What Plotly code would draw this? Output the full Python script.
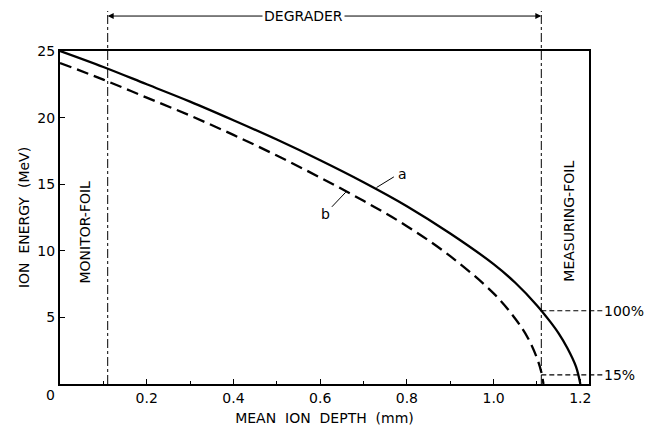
import plotly.graph_objects as go

# Curve a (solid) and curve b (dashed): mean ion depth (mm) vs ion energy (MeV)
depth_a = [0, 0.1, 0.2, 0.3, 0.4, 0.5, 0.6, 0.7, 0.8, 0.9, 1.0, 1.05, 1.1, 1.13, 1.15, 1.17, 1.19, 1.2]
energy_a = [25, 23.8, 22.5, 21.2, 19.8, 18.35, 16.8, 15.15, 13.35, 11.3, 9.0, 7.6, 5.9, 4.7, 3.8, 2.7, 1.3, 0]

depth_b = [0, 0.1, 0.2, 0.3, 0.4, 0.5, 0.6, 0.7, 0.8, 0.9, 1.0, 1.05, 1.08, 1.1, 1.11, 1.115]
energy_b = [24.1, 22.85, 21.5, 20.15, 18.7, 17.15, 15.5, 13.75, 11.85, 9.6, 6.8, 4.9, 3.4, 1.95, 0.9, 0]

x_ticks = [0.2, 0.4, 0.6, 0.8, 1.0, 1.2]
x_ticktext = ["0.2", "0.4", "0.6", "0.8", "1.0", "1.2"]
x_minor = [0.1, 0.3, 0.5, 0.7, 0.9, 1.1]
y_ticks = [5, 10, 15, 20, 25]

monitor_foil_x = 0.11
measuring_foil_x = 1.11
level_100 = 5.5
level_15 = 0.68

FONT = "DejaVu Sans"
FS = 14

fig = go.Figure()
fig.add_trace(go.Scatter(x=depth_a, y=energy_a, mode="lines",
                         line=dict(color="black", width=2.3, shape="spline", smoothing=1.0),
                         showlegend=False, hoverinfo="skip"))
fig.add_trace(go.Scatter(x=depth_b, y=energy_b, mode="lines",
                         line=dict(color="black", width=2.3, dash="12px,6px", shape="spline", smoothing=1.0),
                         showlegend=False, hoverinfo="skip"))

X0, X1 = 0, 1.22
fig.update_xaxes(range=[X0, X1], showline=True, linecolor="black", linewidth=2, mirror=True,
                 automargin=False,
                 ticks="inside", ticklen=5, tickcolor="black", tickwidth=1,
                 tickvals=x_ticks, ticktext=x_ticktext,
                 minor=dict(tickvals=x_minor, ticks="inside", ticklen=3, tickcolor="black"),
                 showgrid=False, zeroline=False,
                 tickfont=dict(family=FONT, size=FS, color="black"),
                 title=dict(text="MEAN  ION  DEPTH  (mm)", font=dict(family=FONT, size=FS, color="black"), standoff=8))
fig.update_yaxes(range=[0, 25], showline=True, linecolor="black", linewidth=2, mirror=True,
                 automargin=False,
                 ticks="inside", ticklen=5, tickcolor="black", tickwidth=1,
                 tickvals=y_ticks, showgrid=False, zeroline=False,
                 tickfont=dict(family=FONT, size=FS, color="black"),
                 title=dict(text="ION  ENERGY  (MeV)", font=dict(family=FONT, size=FS, color="black"), standoff=4))

shapes = []
# dash-dot foil boundaries, extending above the frame
for xv in (monitor_foil_x, measuring_foil_x):
    shapes.append(dict(type="line", xref="x", yref="paper", x0=xv, x1=xv, y0=0, y1=1.12,
                       line=dict(color="black", width=1, dash="dashdot")))
# 100% / 15% levels
def px(xd):
    return (xd - X0) / (X1 - X0)
for lv in (level_100, level_15):
    shapes.append(dict(type="line", xref="paper", yref="y", x0=px(measuring_foil_x), x1=px(1.255), y0=lv, y1=lv,
                       line=dict(color="black", width=1.2, dash="5px,3px")))
# leader lines for curve labels
shapes.append(dict(type="line", xref="x", yref="y", x0=0.73, y0=14.75, x1=0.77, y1=15.55,
                   line=dict(color="black", width=1)))
shapes.append(dict(type="line", xref="x", yref="y", x0=0.659, y0=14.4, x1=0.627, y1=13.3,
                   line=dict(color="black", width=1)))
fig.update_layout(shapes=shapes)

ann = []
# DEGRADER double arrow
ymid = 1.105
xc = 0.562
for end in (monitor_foil_x, measuring_foil_x):
    ann.append(dict(x=end, y=ymid, xref="x", yref="y domain", ax=xc, ay=ymid, axref="x", ayref="y domain",
                    text="", showarrow=True, arrowhead=2, arrowsize=1.2, arrowwidth=1, arrowcolor="black"))
ann.append(dict(x=xc, y=ymid, xref="x", yref="paper", text="DEGRADER", showarrow=False,
                yanchor="middle", bgcolor="white", font=dict(family=FONT, size=FS, color="black")))
ann.append(dict(x=0.775, y=15.8, xref="x", yref="y", text="a", showarrow=False,
                xanchor="left", font=dict(family=FONT, size=FS, color="black")))
ann.append(dict(x=0.628, y=12.8, xref="x", yref="y", text="b", showarrow=False,
                xanchor="right", font=dict(family=FONT, size=FS, color="black")))
ann.append(dict(x=0.0586, y=11.4, xref="x", yref="y", text="MONITOR-FOIL", textangle=-90, showarrow=False,
                font=dict(family=FONT, size=FS, color="black")))
ann.append(dict(x=1.172, y=12.2, xref="x", yref="y", text="MEASURING-FOIL", textangle=-90, showarrow=False,
                font=dict(family=FONT, size=FS, color="black")))
ann.append(dict(x=px(1.255), y=level_100, xref="paper", yref="y", text="100%", showarrow=False,
                xanchor="left", xshift=-2, font=dict(family=FONT, size=FS, color="black")))
ann.append(dict(x=px(1.255), y=level_15, xref="paper", yref="y", text="15%", showarrow=False,
                xanchor="left", xshift=-2, font=dict(family=FONT, size=FS, color="black")))
ann.append(dict(x=-0.018, y=-0.004, xref="paper", yref="paper", text="0", showarrow=False,
                xanchor="center", yanchor="top", font=dict(family=FONT, size=FS, color="black")))
fig.update_layout(annotations=ann)

fig.update_layout(width=652, height=430, margin=dict(l=60, r=63, t=51, b=46),
                  paper_bgcolor="white", plot_bgcolor="white")
fig.write_html("out.html")
